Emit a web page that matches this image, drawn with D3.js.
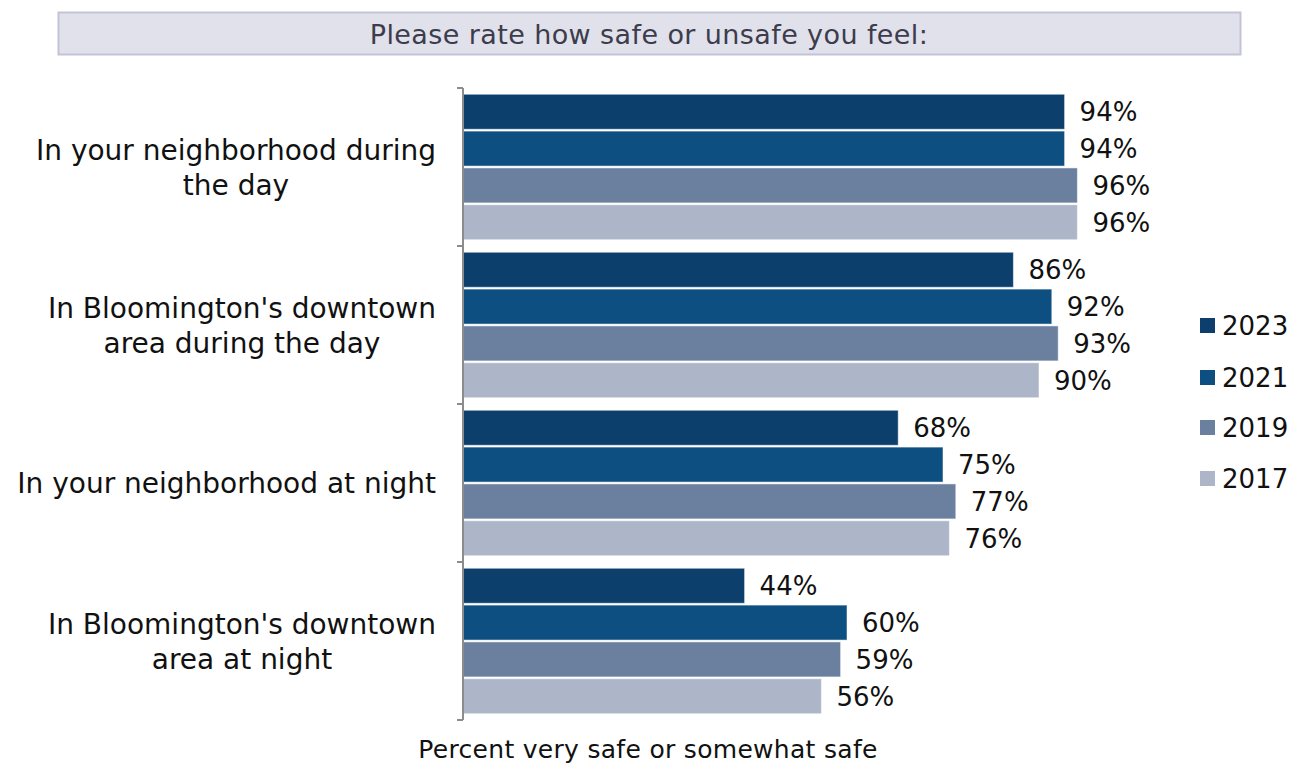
<!DOCTYPE html>
<html>
<head>
<meta charset="utf-8">
<script src="https://cdn.jsdelivr.net/npm/d3@7"></script>
<style>
  body { margin: 0; background: #fff; }
  text { font-family: "DejaVu Sans", sans-serif; }
</style>
</head>
<body>
<div class="chart"></div>
<script>
const categories = [
  ["In your neighborhood during", "the day"],
  ["In Bloomington's downtown", "area during the day"],
  ["In your neighborhood at night"],
  ["In Bloomington's downtown", "area at night"]
];
const years = ["2023", "2021", "2019", "2017"];
const values2023 = [94, 86, 68, 44];
const values2021 = [94, 92, 75, 60];
const values2019 = [96, 93, 77, 59];
const values2017 = [96, 90, 76, 56];
const colors = ["#0c3f6b", "#0d4f81", "#6b7f9f", "#adb6c8"];

const series = [values2023, values2021, values2019, values2017];

const width = 1300, height = 766;
const margin = { top: 88, left: 463, bottom: 46 };

const svg = d3.select(".chart")
  .append("svg")
  .attr("width", width)
  .attr("height", height);

// Title box
svg.append("rect")
  .attr("x", 58.5).attr("y", 12.5)
  .attr("width", 1182).attr("height", 42)
  .attr("fill", "#e1e1eb")
  .attr("stroke", "#c3c3d8")
  .attr("stroke-width", 2);

svg.append("text")
  .attr("x", 649).attr("y", 44)
  .attr("text-anchor", "middle")
  .attr("fill", "#3c3c4c")
  .style("font-size", "27px")
  .style("letter-spacing", "0.4px")
  .text("Please rate how safe or unsafe you feel:");

const y0 = d3.scaleBand()
  .domain(d3.range(categories.length))
  .range([margin.top, height - margin.bottom]);

const y1 = d3.scaleBand()
  .domain(d3.range(years.length))
  .range([0, y0.bandwidth()])
  .paddingOuter(0.17)
  .paddingInner(0.05);

const x = d3.scaleLinear()
  .domain([0, 100])
  .range([margin.left, margin.left + 640]);

// Bars
const groups = svg.selectAll(".group")
  .data(categories)
  .enter()
  .append("g")
  .attr("transform", (d, i) => `translate(0,${y0(i)})`);

groups.each(function(cat, ci) {
  const g = d3.select(this);
  years.forEach((yr, si) => {
    const v = series[si][ci];
    g.append("rect")
      .attr("x", x(0))
      .attr("y", y1(si))
      .attr("width", x(v) - x(0))
      .attr("height", y1.bandwidth())
      .attr("fill", colors[si])
      .attr("stroke", "#ffffff")
      .attr("stroke-opacity", 0.5)
      .attr("stroke-width", 1);
    g.append("text")
      .attr("x", x(v) + 15)
      .attr("y", y1(si) + y1.bandwidth() / 2)
      .attr("dy", "0.36em")
      .attr("fill", "#111")
      .style("font-size", "26px")
      .text(v + "%");
  });
});

// Axis (category boundaries)
const axisG = svg.append("g").attr("fill", "none").attr("stroke", "#8c8c8c").attr("stroke-width", 2);
axisG.append("line")
  .attr("x1", margin.left).attr("x2", margin.left)
  .attr("y1", y0.range()[0]).attr("y2", y0.range()[1]);
axisG.selectAll(".tick")
  .data(d3.range(categories.length + 1))
  .enter()
  .append("line")
  .attr("x1", margin.left - 6).attr("x2", margin.left)
  .attr("y1", i => i < categories.length ? y0(i) : y0.range()[1])
  .attr("y2", i => i < categories.length ? y0(i) : y0.range()[1]);

// Category labels: centered lines, block right edge near the axis
const labelRight = 436;
categories.forEach((lines, ci) => {
  const t = svg.append("text")
    .attr("fill", "#111")
    .style("font-size", "28px")
    .attr("text-anchor", "middle");
  const cy = y0(ci) + y0.bandwidth() / 2;
  const lh = 35;
  lines.forEach((ln, li) => {
    t.append("tspan")
      .attr("x", 0)
      .attr("y", cy + (li - (lines.length - 1) / 2) * lh)
      .attr("dy", "0.36em")
      .text(ln);
  });
  const w = t.node().getBBox().width;
  t.selectAll("tspan").attr("x", labelRight - w / 2);
});

// Legend
const legend = svg.append("g").attr("transform", "translate(1200,0)");
const legendY = [326, 378, 428, 479];
years.forEach((yr, i) => {
  legend.append("rect")
    .attr("x", 0).attr("y", legendY[i] - 8)
    .attr("width", 15).attr("height", 15)
    .attr("fill", colors[i]);
  legend.append("text")
    .attr("x", 22).attr("y", legendY[i])
    .attr("dy", "0.36em")
    .attr("fill", "#111")
    .style("font-size", "26px")
    .text(yr);
});

// Axis title
svg.append("text")
  .attr("x", 648).attr("y", 758)
  .attr("text-anchor", "middle")
  .attr("fill", "#111")
  .style("font-size", "25px")
  .style("letter-spacing", "0.3px")
  .text("Percent very safe or somewhat safe");
</script>
</body>
</html>
